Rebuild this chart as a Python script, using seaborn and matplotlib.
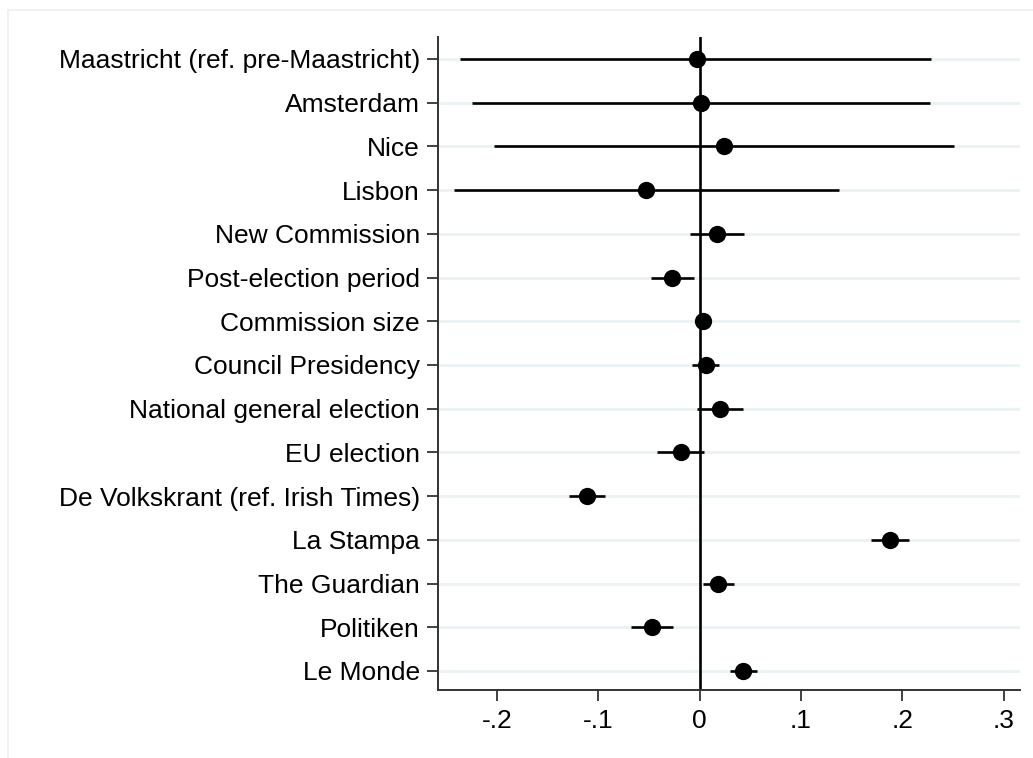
import matplotlib
matplotlib.use("Agg")
import matplotlib.pyplot as plt
import numpy as np
import pandas as pd
import seaborn as sns
from matplotlib.patches import Rectangle

# Coefficient estimates with 95% confidence intervals
terms = [
    "Maastricht (ref. pre-Maastricht)",
    "Amsterdam",
    "Nice",
    "Lisbon",
    "New Commission",
    "Post-election period",
    "Commission size",
    "Council Presidency",
    "National general election",
    "EU election",
    "De Volkskrant (ref. Irish Times)",
    "La Stampa",
    "The Guardian",
    "Politiken",
    "Le Monde",
]
coef = [-0.0025, 0.0015, 0.0242, -0.053, 0.017, -0.027, 0.003, 0.0064,
        0.020, -0.0186, -0.111, 0.1877, 0.0183, -0.0469, 0.0432]
ci_low = [-0.236, -0.224, -0.203, -0.242, -0.009, -0.048, 0.001, -0.007,
          -0.0025, -0.0417, -0.129, 0.169, 0.0035, -0.0673, 0.030]
ci_high = [0.228, 0.227, 0.251, 0.137, 0.044, -0.006, 0.005, 0.0195,
           0.043, 0.0047, -0.0935, 0.2065, 0.0338, -0.026, 0.0568]

xtick_values = [-0.2, -0.1, 0.0, 0.1, 0.2, 0.3]
xtick_labels = ["-.2", "-.1", "0", ".1", ".2", ".3"]

df = pd.DataFrame({"term": terms, "coef": coef, "lo": ci_low, "hi": ci_high})
df["pos"] = np.arange(len(df))

sns.set_theme(style="white")
plt.rcParams["font.family"] = ["Liberation Sans", "DejaVu Sans"]

fig = plt.figure(figsize=(10.33, 7.58), dpi=100)
fig.patch.set_facecolor("white")
# light outer frame of the graph region
fig.add_artist(Rectangle((8 / 1033, -0.1), 1.2, (758 - 10) / 758 + 0.1,
                         transform=fig.transFigure, fill=False,
                         edgecolor="#eef0f0", linewidth=1.2))

ax = fig.add_axes([438 / 1033, 1 - 690 / 758, (1020 - 438) / 1033, (690 - 37) / 758])
ax.set_facecolor("white")

# horizontal gridlines at each coefficient row
for p in df["pos"]:
    ax.axhline(p, color="#eaf2f3", linewidth=2.0, zorder=0)

ax.axvline(0, color="black", linewidth=1.9, zorder=2)

ax.hlines(df["pos"], df["lo"], df["hi"], color="black", linewidth=1.9, zorder=3)
sns.scatterplot(data=df, x="coef", y="pos", ax=ax, color="black", s=155,
                edgecolor="black", linewidth=0, zorder=4, legend=False)

ax.set_xlim(-0.258, 0.316)
ax.set_ylim(14.435, -0.503)

ax.set_yticks(df["pos"])
ax.set_yticklabels(df["term"])
ax.set_xticks(xtick_values)
ax.set_xticklabels(xtick_labels)
ax.set_xlabel("")
ax.set_ylabel("")

ax.tick_params(axis="both", which="major", length=8, width=1.3, color="#333333",
               labelsize=19, labelcolor="black", direction="out")
ax.tick_params(axis="y", left=True, pad=5)
ax.tick_params(axis="x", bottom=True, pad=6)

for side in ["top", "right"]:
    ax.spines[side].set_visible(False)
for side in ["left", "bottom"]:
    ax.spines[side].set_color("#333333")
    ax.spines[side].set_linewidth(1.4)

fig.savefig("out.png", dpi=100, facecolor="white")
